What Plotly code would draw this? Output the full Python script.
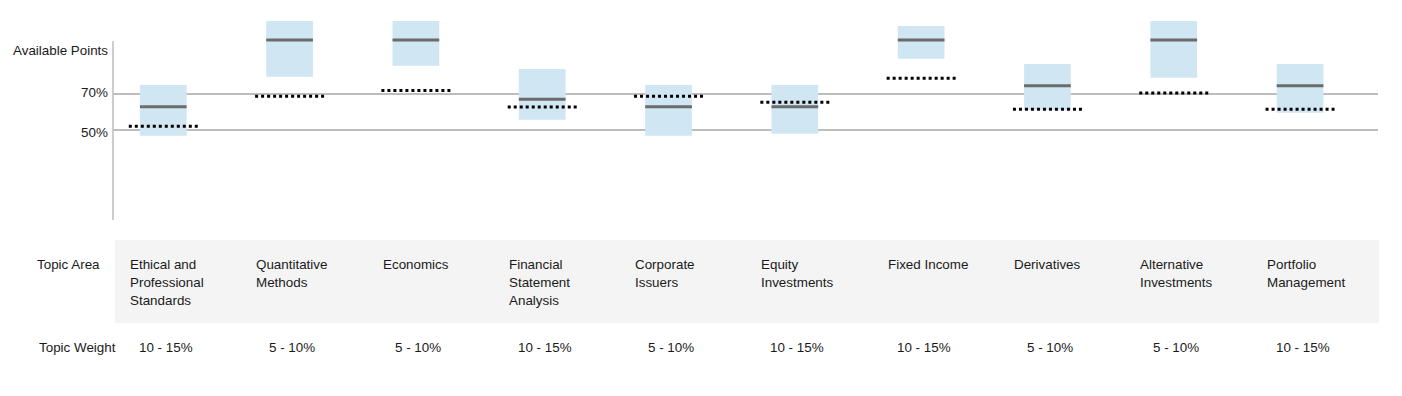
import plotly.graph_objects as go

# ---- data ----
categories = ["Ethical and<br>Professional<br>Standards", "Quantitative<br>Methods", "Economics",
              "Financial<br>Statement<br>Analysis", "Corporate<br>Issuers", "Equity<br>Investments",
              "Fixed Income", "Derivatives", "Alternative<br>Investments", "Portfolio<br>Management"]
weights = ["10 - 15%", "5 - 10%", "5 - 10%", "10 - 15%", "5 - 10%",
           "10 - 15%", "10 - 15%", "5 - 10%", "5 - 10%", "10 - 15%"]
range_low = [46.8, 79.6, 85.7, 55.7, 46.8, 47.9, 89.6, 61.1, 79.0, 59.6]
range_high = [75.0, 110.6, 110.6, 83.9, 75.0, 75.0, 107.8, 86.7, 110.6, 86.7]
score = [62.9, 100.0, 100.0, 67.1, 62.9, 62.9, 100.0, 74.6, 100.0, 74.6]
average = [52.1, 68.7, 72.0, 62.8, 68.7, 65.4, 78.7, 61.5, 70.6, 61.5]
grid_values = [50, 70]
grid_labels = ["50%", "70%"]
axis_title = "Available Points"
row_titles = ["Topic Area", "Topic Weight"]

# ---- geometry / style ----
W, H = 1402, 396
FONT = "Liberation Sans, Arial, sans-serif"
TXT = "#1a1a1a"
BOX_W = 0.37
MED_HALF = 0.185
DOT_HALF = 0.273
idx = list(range(len(categories)))

fig = go.Figure()

fig.add_trace(go.Bar(
    x=idx, y=[h - l for h, l in zip(range_high, range_low)], base=range_low,
    width=BOX_W, marker=dict(color="#d0e6f3", line=dict(width=0)),
    hoverinfo="skip", showlegend=False))

mx, my, dx, dy = [], [], [], []
for i in idx:
    mx += [i - MED_HALF, i + MED_HALF, None]
    my += [score[i], score[i], None]
    dx += [i - DOT_HALF, i + DOT_HALF, None]
    dy += [average[i], average[i], None]

fig.add_trace(go.Scatter(x=mx, y=my, mode="lines",
                         line=dict(color="#6b6b6b", width=3),
                         hoverinfo="skip", showlegend=False))
fig.add_trace(go.Scatter(x=dx, y=dy, mode="lines",
                         line=dict(color="#000000", width=3, dash="dot"),
                         hoverinfo="skip", showlegend=False))

def px(xp):
    return xp / W

def py(yp):
    return 1 - yp / H

fig.update_layout(
    width=W, height=H, autosize=False,
    margin=dict(l=0, r=0, t=0, b=0),
    paper_bgcolor="white", plot_bgcolor="white",
    font=dict(family=FONT, size=13.4, color=TXT),
    barmode="overlay",
    xaxis=dict(domain=[px(113), px(1378)], range=[-0.398, 9.617],
               showgrid=False, zeroline=False, showticklabels=False, showline=False,
               fixedrange=True),
    yaxis=dict(domain=[py(229), py(13)], range=[-5, 115],
               tickvals=grid_values, showticklabels=False, showgrid=True,
               gridcolor="#bdbdbd", gridwidth=1.5, zeroline=False, showline=False,
               fixedrange=True),
)

shapes = []
# vertical axis line (0% to ~100%)
shapes.append(dict(type="line", xref="paper", yref="y", x0=px(113), x1=px(113),
                   y0=0, y1=99.4, line=dict(color="#bdbdbd", width=1.5)))
# table background
shapes.append(dict(type="rect", xref="paper", yref="paper", x0=px(115), x1=px(1379),
                   y0=py(323), y1=py(240), fillcolor="#f4f4f4", line=dict(width=0),
                   layer="below"))
fig.update_layout(shapes=shapes)

ann = []
ann.append(dict(xref="paper", yref="y", x=px(108), y=94.4, xshift=2, text=axis_title,
                xanchor="right", yanchor="middle", showarrow=False))
for v, t in zip(grid_values, grid_labels):
    ann.append(dict(xref="paper", yref="y", x=px(108), y=v, xshift=2,
                    yshift=2 if v == 70 else -2.5,
                    text=t, xanchor="right", yanchor="middle", showarrow=False))
ann.append(dict(xref="paper", yref="paper", x=px(37), y=py(264), xshift=-2, text=row_titles[0],
                xanchor="left", yanchor="middle", showarrow=False))
ann.append(dict(xref="paper", yref="paper", x=px(39), y=py(347), xshift=-2, text=row_titles[1],
                xanchor="left", yanchor="middle", showarrow=False))
for i in idx:
    for k, line in enumerate(categories[i].split("<br>")):
        ann.append(dict(xref="x", yref="paper", x=i - 0.264, y=py(264 + 18 * k), xshift=-2,
                        text=line, xanchor="left", yanchor="middle", showarrow=False))
    ann.append(dict(xref="x", yref="paper", x=i + 0.02, y=py(347), text=weights[i],
                    xanchor="center", yanchor="middle", showarrow=False))
fig.update_layout(annotations=ann)

fig.write_html("out.html", config={"displayModeBar": False, "staticPlot": True},
               post_script="document.body.style.margin='0';document.body.style.overflow='hidden';")
